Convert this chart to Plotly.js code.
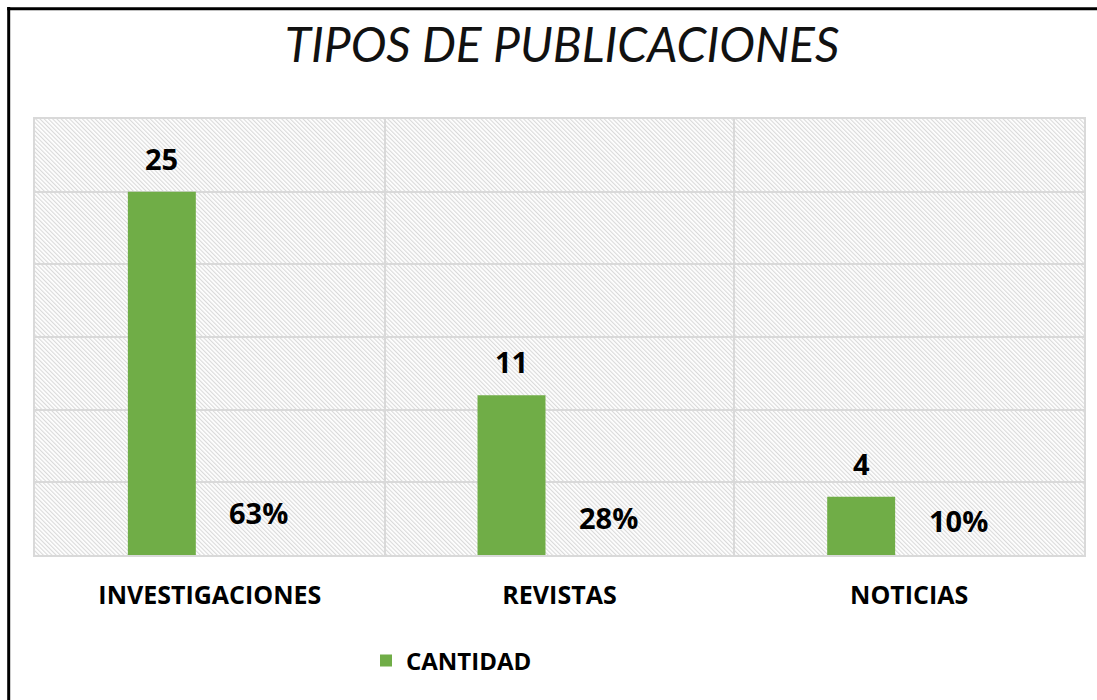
<!DOCTYPE html>
<html><head><meta charset="utf-8">
<script src="https://cdn.plot.ly/plotly-3.0.1.min.js"></script>
<style>body{margin:0;background:#fff}#chart{width:1097px;height:700px}</style>
</head><body><div id="chart"></div>
<script>
const categories = ["INVESTIGACIONES", "REVISTAS", "NOTICIAS"];
const cantidad = [25, 11, 4];
const porcentaje = [0.63, 0.28, 0.10];
const porcentajeLabels = ["63%", "28%", "10%"];
const seriesName = "CANTIDAD";
const titleText = "TIPOS DE PUBLICACIONES";

const W = 1097, H = 700, L = 35, R = 13, T = 119, B = 145;
const pw = W - L - R, ph = H - T - B;
const px2x = p => (p - L) / pw;
const py2y = p => 1 - (p - T) / ph;
const FONT = "'Open Sans', Lato, sans-serif";
const TFONT = "Lato, 'Open Sans', sans-serif";
const GREEN = "#70ad47";
const GRID = "#d9d9d9";

const hatchSvg = `<svg xmlns='http://www.w3.org/2000/svg' width='${pw}' height='${ph}'><defs><pattern id='h' width='3' height='3' patternUnits='userSpaceOnUse' patternTransform='rotate(-45)'><rect width='3' height='3' fill='white'/><line x1='0.6' y1='0' x2='0.6' y2='3' stroke='#d9d9d9' stroke-width='1.1'/></pattern></defs><rect width='100%' height='100%' fill='url(#h)'/></svg>`;
const hatchUri = "data:image/svg+xml;charset=utf-8," + encodeURIComponent(hatchSvg);

const traces = [
  {type: "bar", x: categories, y: cantidad, name: seriesName, offsetgroup: "a",
   marker: {color: GREEN}},
  {type: "bar", x: categories, y: porcentaje, name: "PORCENTAJE", offsetgroup: "b",
   marker: {color: "rgba(0,0,0,0)"}, showlegend: false}
];

const labelFont = {family: FONT, size: 29, color: "#000", weight: 700};
const annotations = [
  ...cantidad.map((v, i) => ({x: categories[i], y: v, text: String(v), xref: "x", yref: "y",
    xshift: -48, yshift: 12, yanchor: "bottom", showarrow: false, font: labelFont})),
  ...porcentaje.map((v, i) => ({x: categories[i], y: v, text: porcentajeLabels[i], xref: "x", yref: "y",
    xshift: 49, yshift: 12, yanchor: "bottom", showarrow: false, font: labelFont}))
];

const layout = {
  width: W, height: H,
  margin: {l: L, r: R, t: T, b: B, pad: 0},
  paper_bgcolor: "#fff", plot_bgcolor: "rgba(0,0,0,0)",
  title: {text: titleText, x: px2x(562), xref: "paper", xanchor: "center",
    y: 1 - 45 / H, yref: "container", yanchor: "middle",
    font: {family: TFONT, size: 48, style: "italic", color: "#111"}},
  barmode: "group", bargap: 0.451, bargroupgap: 0.292,
  xaxis: {type: "category", range: [-0.5, 2.5], tickson: "boundaries", showgrid: true,
    gridcolor: GRID, gridwidth: 2, ticks: "", ticklabelstandoff: 17,
    tickfont: {family: FONT, size: 25, color: "#000", weight: 700},
    showline: true, mirror: true, linecolor: GRID, linewidth: 2, fixedrange: true},
  yaxis: {range: [0, 30], dtick: 5, showticklabels: false, showgrid: true,
    gridcolor: GRID, gridwidth: 2, zeroline: false, showline: true, mirror: true,
    linecolor: GRID, linewidth: 2, fixedrange: true},
  legend: {orientation: "h", x: px2x(366), xanchor: "left", y: py2y(661), yanchor: "middle",
    font: {family: FONT, size: 24, color: "#000", weight: 700}, bgcolor: "rgba(0,0,0,0)"},
  images: [{source: hatchUri, xref: "x domain", yref: "y domain", x: 0, y: 1, sizex: 1, sizey: 1,
    xanchor: "left", yanchor: "top", sizing: "stretch", layer: "below"}],
  shapes: [
    {type: "line", xref: "paper", yref: "paper", x0: px2x(8.7), x1: px2x(8.7), y0: py2y(7), y1: py2y(702),
     line: {color: "#000", width: 3}},
    {type: "line", xref: "paper", yref: "paper", x0: px2x(7.2), x1: px2x(1100), y0: py2y(8.7), y1: py2y(8.7),
     line: {color: "#000", width: 3}}
  ],
  annotations: annotations,
  hovermode: false
};

Plotly.newPlot("chart", traces, layout, {displayModeBar: false, staticPlot: true});
</script>
</body></html>
